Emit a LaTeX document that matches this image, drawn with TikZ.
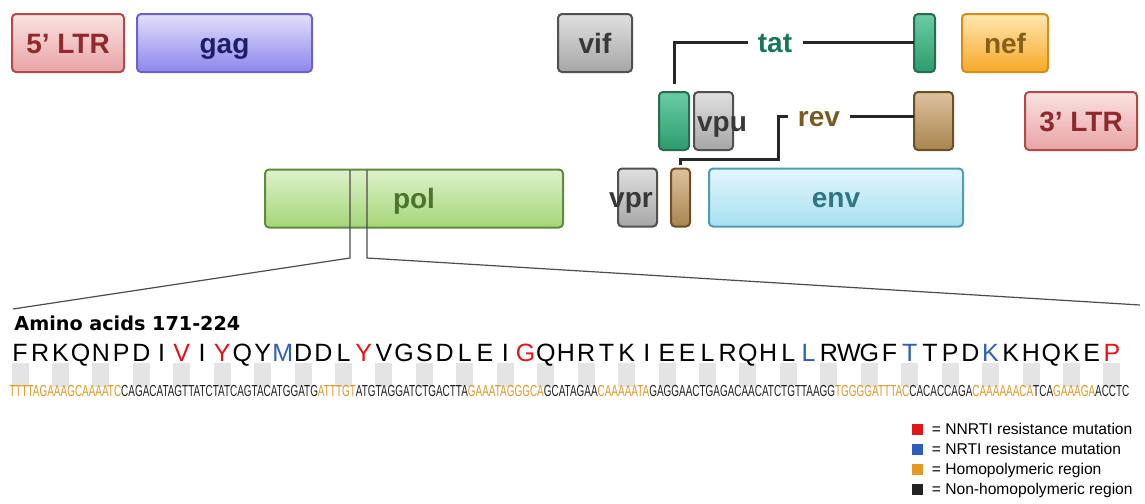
\documentclass[tikz,border=0pt]{standalone}
\usepackage{fontspec}
\setmainfont{Liberation Sans}
\newfontfamily\headfont{DejaVu Sans}
\usepackage{graphicx}
\usetikzlibrary{positioning,calc}
\definecolor{ltrline}{HTML}{B24A4C}
\definecolor{ltrtop}{HTML}{FAE2E2}
\definecolor{ltrbot}{HTML}{E8A3A5}
\definecolor{ltrtext}{HTML}{8E2A2C}
\definecolor{gagline}{HTML}{6E63C4}
\definecolor{gagtop}{HTML}{E2DFFA}
\definecolor{gagbot}{HTML}{8E85EC}
\definecolor{gagtext}{HTML}{1E1E66}
\definecolor{accline}{HTML}{505050}
\definecolor{acctop}{HTML}{E0E0E0}
\definecolor{accbot}{HTML}{A6A6A6}
\definecolor{acctext}{HTML}{383838}
\definecolor{polline}{HTML}{5F8B3C}
\definecolor{poltop}{HTML}{DDF1CB}
\definecolor{polbot}{HTML}{A5D677}
\definecolor{poltext}{HTML}{4D7330}
\definecolor{envline}{HTML}{4E9DB3}
\definecolor{envtop}{HTML}{E4F6FC}
\definecolor{envbot}{HTML}{A6E0F0}
\definecolor{envtext}{HTML}{2F7585}
\definecolor{nefline}{HTML}{D28E1E}
\definecolor{neftop}{HTML}{FFE7B0}
\definecolor{nefbot}{HTML}{F7A828}
\definecolor{neftext}{HTML}{84601A}
\definecolor{tatline}{HTML}{2B6B52}
\definecolor{tattop}{HTML}{6ACCA4}
\definecolor{tatbot}{HTML}{2C9C6E}
\definecolor{tattext}{HTML}{1A7656}
\definecolor{revline}{HTML}{6E4E26}
\definecolor{revtop}{HTML}{DCC29E}
\definecolor{revbot}{HTML}{A9854E}
\definecolor{revtext}{HTML}{7A5A22}
\definecolor{nnrti}{HTML}{E3141B}
\definecolor{nrti}{HTML}{2C5FB8}
\definecolor{homo}{HTML}{E39A22}
\definecolor{homotext}{HTML}{DC9A2A}
\definecolor{nonhomo}{HTML}{222222}
\definecolor{stripe}{HTML}{E4E4E4}
\newcommand\genefont{\fontsize{14pt}{16pt}\selectfont\bfseries}
\newcommand\homoseq[1]{\textcolor{homotext}{#1}}
\tikzset{
  genebox/.style={
    rounded corners=2pt,
    line width=1pt,
    minimum height=29pt,
    inner sep=0pt,
    outer sep=0pt,
    text height=10pt,
    text depth=0pt,
    font=\genefont
  },
  ltrbox/.style={genebox, draw=ltrline, top color=ltrtop, bottom color=ltrbot, text=ltrtext},
  gagbox/.style={genebox, draw=gagline, top color=gagtop, bottom color=gagbot, text=gagtext},
  accbox/.style={genebox, draw=accline, top color=acctop, bottom color=accbot, text=acctext},
  polbox/.style={genebox, draw=polline, top color=poltop, bottom color=polbot, text=poltext},
  envbox/.style={genebox, draw=envline, top color=envtop, bottom color=envbot, text=envtext},
  nefbox/.style={genebox, draw=nefline, top color=neftop, bottom color=nefbot, text=neftext},
  tatbox/.style={genebox, draw=tatline, top color=tattop, bottom color=tatbot},
  revbox/.style={genebox, draw=revline, top color=revtop, bottom color=revbot},
  genetext/.style={inner sep=0pt, text height=10pt, text depth=0pt, font=\genefont},
  splicetext/.style={genetext, inner xsep=5pt},
  splice/.style={line width=1.5pt, draw=black!85},
  zoomline/.style={line width=0.6pt, draw=black!70},
  aa/.style={inner sep=0pt, anchor=base, font=\fontsize{12.5pt}{14pt}\selectfont},
  legsq/.style={minimum size=5.5pt, inner sep=0pt, outer sep=0pt},
  legtext/.style={inner sep=0pt, text height=5.6pt, text depth=0pt, font=\fontsize{7.8pt}{9pt}\selectfont}
}
\begin{document}
\begin{tikzpicture}[x=0.5pt, y=-0.5pt]
\path[use as bounding box, fill=white] (0,0) rectangle (1145,503);

% genome map
\node[ltrbox, minimum width=56pt] (ltr5) at (68,43) {5’ LTR};
\node[gagbox, minimum width=87.5pt, right=6.5pt of ltr5] (gag) {gag};
\node[accbox, minimum width=37pt] (vif) at (595,43) {vif};
\node[tatbox, minimum width=10.5pt] (tat2) at (924.5,43) {};
\node[nefbox, minimum width=43pt, right=13.5pt of tat2] (nef) {nef};

\node[tatbox, minimum width=15pt] (tat1) at (674,121) {};
\node[accbox, minimum width=19.5pt, right=2.5pt of tat1] (vpu) {};
\node[genetext, text=acctext] (vputxt) at (722,121) {vpu};
\node[revbox, minimum width=19.5pt] (rev2) at (933.5,121) {};
\node[ltrbox, minimum width=56pt] (ltr3) at (1081,121) {3’ LTR};

\node[polbox, minimum width=149pt] (pol) at (414,198.5) {pol};
\node[accbox, minimum width=19.5pt] (vpr) at (637.5,197.5) {};
\node[revbox, minimum width=9.5pt, right=7pt of vpr] (rev1) {};
\node[envbox, minimum width=127pt, right=9.5pt of rev1] (env) {env};
\node[genetext, text=acctext] (vprtxt) at (631,197.5) {vpr};

% spliced exons
\node[splicetext, text=tattext] (tattxt) at (775,42) {tat};
\node[splicetext, text=revtext] (revtxt) at (819,116) {rev};
\coordinate (revbend) at (778,159);
\draw[splice] ([yshift=4pt]tat1.north) |- (tattxt.west);
\draw[splice] (tattxt.east) -- (tattxt.east -| tat2.west);
\draw[splice] ([yshift=2pt]rev1.north) |- (revbend) |- (revtxt.west);
\draw[splice] (revtxt.east) -- (revtxt.east -| rev2.west);

% zoom into pol
\coordinate (zoomla) at (350,170);
\coordinate (zoomlb) at (350,258);
\coordinate (zoomlc) at (13,309);
\coordinate (zoomra) at (367,170);
\coordinate (zoomrb) at (367,258);
\coordinate (zoomrc) at (1140,305);
\draw[zoomline] (zoomla) -- (zoomlb) -- (zoomlc);
\draw[zoomline] (zoomra) -- (zoomrb) -- (zoomrc);

% codon stripes
\foreach \i in {0,2,...,54}
  \fill[stripe] ({20+20.22*\i-8.5},363) rectangle ({20+20.22*\i+8.5},387);

\node[anchor=base west, inner sep=0pt, font=\headfont\bfseries\fontsize{9.6pt}{11pt}\selectfont] (aahead) at (14,330)
  {Amino acids 171-224};

\foreach \res/\col [count=\i from 0] in {F/black,R/black,K/black,Q/black,N/black,P/black,D/black,I/black,V/nnrti,I/black,
    Y/nnrti,Q/black,Y/black,M/nrti,D/black,D/black,L/black,Y/nnrti,V/black,G/black,
    S/black,D/black,L/black,E/black,I/black,G/nnrti,Q/black,H/black,R/black,T/black,
    K/black,I/black,E/black,E/black,L/black,R/black,Q/black,H/black,L/black,L/nrti,
    R/black,W/black,G/black,F/black,T/nrti,T/black,P/black,D/black,K/nrti,K/black,
    H/black,Q/black,K/black,E/black,P/nnrti}
  \node[aa, text=\col] (aa\i) at ({20+20.22*\i},361) {\res};

\node[anchor=base west, inner sep=0pt, font=\fontsize{8pt}{9pt}\selectfont, text=nonhomo] (dna) at (9,396.5)
  {\resizebox{560pt}{\height}{\homoseq{TTTTAGAAAGCAAAATC}CAGACATAGTTATCTATCAGTACATGGATG\homoseq{ATTTGT}ATGTAGGATCTGACTTA\homoseq{GAAATAGGGCA}GCATAGAA\homoseq{CAAAAATA}GAGGAACTGAGACAACATCTGTTAAGG\homoseq{TGGGGATTTAC}CACACCAGA\homoseq{CAAAAAACA}TCA\homoseq{GAAAGA}ACCTC}};

% legend
\node[legsq, fill=nnrti] (legnn) at (917,429) {};
\node[legsq, fill=nrti, below=4.5pt of legnn] (legnr) {};
\node[legsq, fill=homo, below=4.5pt of legnr] (leghp) {};
\node[legsq, fill=nonhomo, below=4.5pt of leghp] (legnh) {};
\node[legtext, right=4.5pt of legnn] (legnntxt) {= NNRTI resistance mutation};
\node[legtext, right=4.5pt of legnr] (legnrtxt) {= NRTI resistance mutation};
\node[legtext, right=4.5pt of leghp] (leghptxt) {= Homopolymeric region};
\node[legtext, right=4.5pt of legnh] (legnhtxt) {= Non-homopolymeric region};
\end{tikzpicture}
\end{document}
